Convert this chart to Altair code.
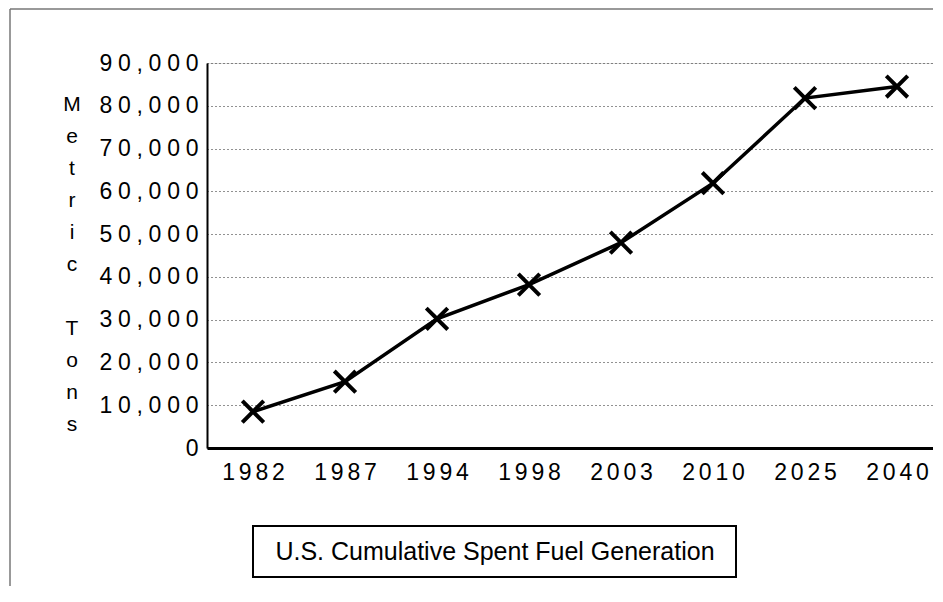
import altair as alt
import pandas as pd

years = ["1982", "1987", "1994", "1998", "2003", "2010", "2025", "2040"]
tons = [8500, 15500, 30200, 38200, 48000, 61900, 81800, 84500]
y_ticks = [0, 10000, 20000, 30000, 40000, 50000, 60000, 70000, 80000, 90000]
title_words = ["Metric", "Tons"]
box_text = ["U.S. Cumulative Spent Fuel Generation"]

df = pd.DataFrame({"year": years, "tons": tons})
one = pd.DataFrame({"t": box_text})
w1 = pd.DataFrame({"t": ["\n".join(title_words[0])]})
w2 = pd.DataFrame({"t": ["\n".join(title_words[1])]})

FONT = "Liberation Sans"
SP_Y = "\u2005"
SP_X = "\u2006"

x_enc = alt.X(
    "year:O",
    sort=years,
    scale=alt.Scale(type="point", padding=0.4457, align=0.561),
    axis=alt.Axis(
        title=None, labelAngle=0, ticks=False, grid=False,
        domainColor="black", domainWidth=3, labelPadding=13,
        labelFontSize=23, labelFont=FONT, labelColor="black",
        labelExpr=f"join(split(datum.label, ''), '{SP_X}')",
    ),
)
y_enc = alt.Y(
    "tons:Q",
    scale=alt.Scale(domain=[0, 90000], nice=False),
    axis=alt.Axis(
        values=y_ticks, format=",d", ticks=False,
        domainColor="black", domainWidth=2,
        grid=True, gridColor="#222", gridDash=[1, 3], gridWidth=1,
        labelFontSize=23, labelFont=FONT, labelColor="black", labelPadding=9,
        labelExpr=f"join(split(datum.label, ''), '{SP_Y}')",
        title=None,
    ),
)

line = alt.Chart(df).mark_line(color="black", strokeWidth=3.5).encode(x=x_enc, y=y_enc)
pts = alt.Chart(df).mark_point(
    shape="M-1,-1L1,1M-1,1L1,-1", size=460, filled=False,
    color="black", strokeWidth=4, opacity=1,
).encode(x=alt.X("year:O", sort=years), y="tons:Q")

title1 = alt.Chart(w1).mark_text(
    font=FONT, fontSize=21, color="black", align="center", baseline="top",
    lineBreak="\n", lineHeight=32,
).encode(x=alt.value(-135), y=alt.value(31), text="t:N")
title2 = alt.Chart(w2).mark_text(
    font=FONT, fontSize=21, color="black", align="center", baseline="top",
    lineBreak="\n", lineHeight=32,
).encode(x=alt.value(-135), y=alt.value(31 + 7 * 32), text="t:N")

frame_left = alt.Chart(one).mark_rule(color="#777", strokeWidth=1.5).encode(
    x=alt.value(-197), y=alt.value(-54), y2=alt.value(540)
)
frame_top = alt.Chart(one).mark_rule(color="#777", strokeWidth=1.5).encode(
    x=alt.value(-197), x2=alt.value(760), y=alt.value(-54)
)
box = alt.Chart(one).mark_rect(fill="white", stroke="black", strokeWidth=2).encode(
    x=alt.value(46), x2=alt.value(529), y=alt.value(463), y2=alt.value(514)
)
box_label = alt.Chart(one).mark_text(
    font=FONT, fontSize=25, color="black", align="center", baseline="middle"
).encode(x=alt.value(288), y=alt.value(489), text="t:N")

chart = alt.layer(frame_left, frame_top, line, pts, title1, title2, box, box_label).properties(
    width=726, height=385,
    autosize=alt.AutoSizeParams(type="none"),
    padding={"left": 199, "top": 55, "right": 0, "bottom": 138},
).configure_view(stroke=None).configure(background="white")

chart.save("out.html", embed_options={"renderer": "svg", "actions": False})
